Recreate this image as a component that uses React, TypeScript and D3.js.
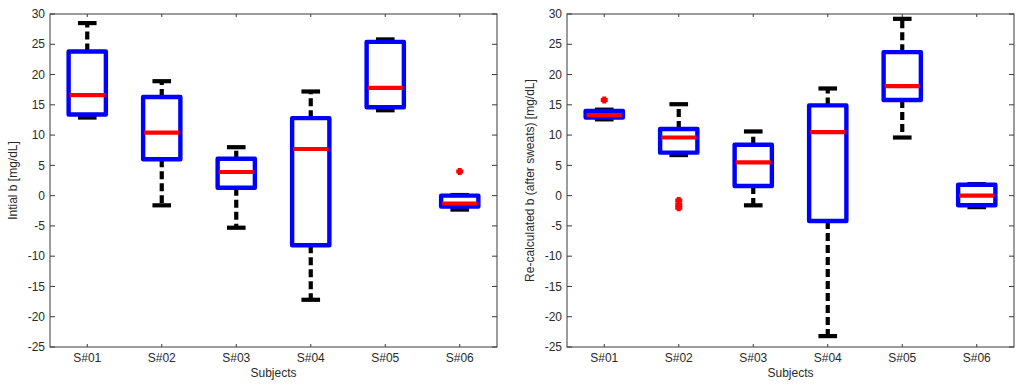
import { useEffect, useRef } from "react";
import * as d3 from "d3";

const subjects = ["S#01", "S#02", "S#03", "S#04", "S#05", "S#06"];
const yTicks = [-25, -20, -15, -10, -5, 0, 5, 10, 15, 20, 25, 30];

// left panel: initial b
const initLow = [12.9, -1.6, -5.3, -17.2, 14.1, -2.3];
const initQ1 = [13.4, 6.0, 1.3, -8.2, 14.6, -1.8];
const initMed = [16.6, 10.4, 3.9, 7.7, 17.8, -1.3];
const initQ3 = [23.8, 16.3, 6.1, 12.8, 25.4, 0.0];
const initHigh = [28.5, 18.9, 8.0, 17.2, 25.8, 0.1];
const initOutliers = [[], [], [], [], [], [4.0]];

// right panel: re-calculated b
const recLow = [12.6, 6.7, -1.6, -23.2, 9.6, -1.9];
const recQ1 = [12.9, 7.1, 1.6, -4.2, 15.8, -1.6];
const recMed = [13.3, 9.6, 5.5, 10.5, 18.1, 0.0];
const recQ3 = [14.0, 11.0, 8.4, 14.9, 23.7, 1.8];
const recHigh = [14.2, 15.1, 10.6, 17.7, 29.2, 1.9];
const recOutliers = [[15.8], [-0.8, -1.5, -2.0], [], [], [], []];

const FONT = "Liberation Sans, Arial, sans-serif";

type Panel = {
  left: number;
  right: number;
  ylabel: string;
  low: number[];
  q1: number[];
  med: number[];
  q3: number[];
  high: number[];
  outliers: number[][];
};

export default function App() {
  const ref = useRef<SVGSVGElement>(null);

  useEffect(() => {
    if (!ref.current) return;
    const svg = d3.select(ref.current);
    svg.selectAll("*").remove();

    const top = 14;
    const bottom = 347;

    const panels: Panel[] = [
      { left: 50, right: 497, ylabel: "Intial b [mg/dL]", low: initLow, q1: initQ1, med: initMed, q3: initQ3, high: initHigh, outliers: initOutliers },
      { left: 567, right: 1014, ylabel: "Re-calculated b (after sweats) [mg/dL]", low: recLow, q1: recQ1, med: recMed, q3: recQ3, high: recHigh, outliers: recOutliers },
    ];

    panels.forEach((p) => {
      const g = svg.append("g");
      const x = d3.scalePoint<string>().domain(subjects).range([p.left, p.right]).padding(0.5);
      const y = d3.scaleLinear().domain([-25, 30]).range([bottom, top]);
      const step = x.step();
      const boxW = step * 0.5;
      const capW = step * 0.25;

      // frame
      g.append("rect")
        .attr("x", p.left).attr("y", top)
        .attr("width", p.right - p.left).attr("height", bottom - top)
        .attr("fill", "#fff").attr("stroke", "#3a3a3a").attr("stroke-width", 1);

      // y ticks
      yTicks.forEach((t) => {
        g.append("line").attr("x1", p.left).attr("x2", p.left + 5).attr("y1", y(t)).attr("y2", y(t)).attr("stroke", "#3a3a3a");
        g.append("line").attr("x1", p.right - 5).attr("x2", p.right).attr("y1", y(t)).attr("y2", y(t)).attr("stroke", "#3a3a3a");
        g.append("text")
          .attr("x", p.left - 5).attr("y", y(t)).attr("dy", "0.35em")
          .attr("text-anchor", "end").attr("font-family", FONT).attr("font-size", 12).attr("fill", "#2a2a2a")
          .text(String(t));
      });

      // x ticks
      subjects.forEach((s) => {
        const cx = x(s)!;
        g.append("line").attr("x1", cx).attr("x2", cx).attr("y1", bottom).attr("y2", bottom - 3).attr("stroke", "#3a3a3a");
        g.append("line").attr("x1", cx).attr("x2", cx).attr("y1", top).attr("y2", top + 3).attr("stroke", "#3a3a3a");
        g.append("text")
          .attr("x", cx).attr("y", 362)
          .attr("text-anchor", "middle").attr("font-family", FONT).attr("font-size", 12).attr("fill", "#2a2a2a")
          .text(s);
      });

      // boxes
      subjects.forEach((s, i) => {
        const cx = x(s)!;
        const whisk = g.append("g").attr("stroke", "#000").attr("stroke-width", 4.2);
        whisk.append("line").attr("x1", cx).attr("x2", cx).attr("y1", y(p.q3[i])).attr("y2", y(p.high[i])).attr("stroke-dasharray", "8 4");
        whisk.append("line").attr("x1", cx).attr("x2", cx).attr("y1", y(p.q1[i])).attr("y2", y(p.low[i])).attr("stroke-dasharray", "8 4");
        whisk.append("line").attr("x1", cx - capW / 2).attr("x2", cx + capW / 2).attr("y1", y(p.high[i])).attr("y2", y(p.high[i]));
        whisk.append("line").attr("x1", cx - capW / 2).attr("x2", cx + capW / 2).attr("y1", y(p.low[i])).attr("y2", y(p.low[i]));

        g.append("rect")
          .attr("x", cx - boxW / 2).attr("y", y(p.q3[i]))
          .attr("width", boxW).attr("height", y(p.q1[i]) - y(p.q3[i]))
          .attr("fill", "none").attr("stroke", "#0000ff").attr("stroke-width", 4.4).attr("stroke-linejoin", "round");

        g.append("line")
          .attr("x1", cx - boxW / 2 + 1).attr("x2", cx + boxW / 2 - 1)
          .attr("y1", y(p.med[i])).attr("y2", y(p.med[i]))
          .attr("stroke", "#ff0000").attr("stroke-width", 4.2);

        p.outliers[i].forEach((v) => {
          const oy = y(v);
          g.append("path")
            .attr("d", `M${cx - 3.5},${oy}H${cx + 3.5}M${cx},${oy - 3.5}V${oy + 3.5}`)
            .attr("stroke", "#ff0000").attr("stroke-width", 4);
        });
      });

      // labels
      const mid = (p.left + p.right) / 2;
      g.append("text")
        .attr("x", mid).attr("y", 377)
        .attr("text-anchor", "middle").attr("font-family", FONT).attr("font-size", 12).attr("fill", "#2a2a2a")
        .text("Subjects");
      const lx = p.left - 33;
      g.append("text")
        .attr("transform", `translate(${lx},${(top + bottom) / 2}) rotate(-90)`)
        .attr("text-anchor", "middle").attr("font-family", FONT).attr("font-size", 12).attr("fill", "#2a2a2a")
        .text(p.ylabel);
    });
  }, []);

  return (
    <svg
      ref={ref}
      width={1024}
      height={390}
      style={{ position: "absolute", left: 0, top: 0, background: "#fff" }}
    />
  );
}
